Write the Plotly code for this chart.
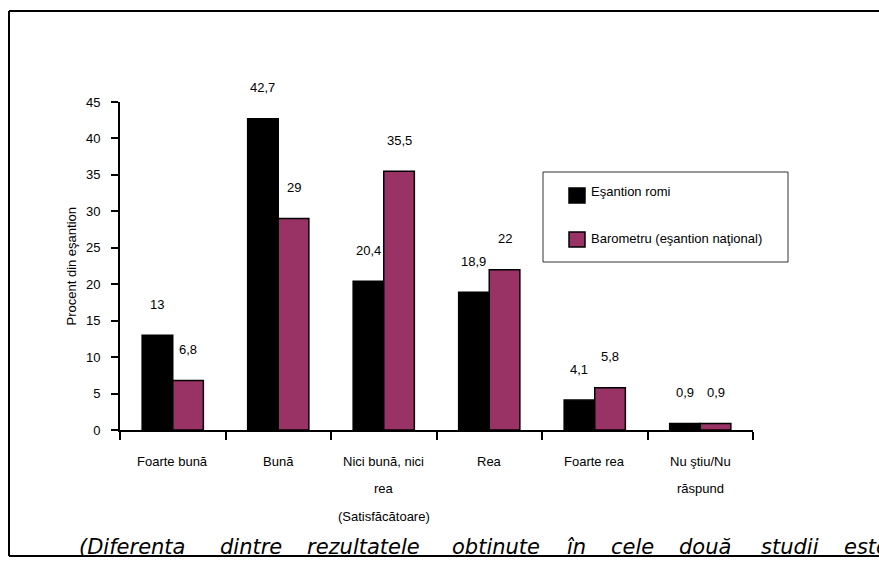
import plotly.graph_objects as go

# Categories (axis labels split into display lines) and the two survey series
categories = ["Foarte bună", "Bună", "Nici bună, nici|rea|(Satisfăcătoare)",
              "Rea", "Foarte rea", "Nu ştiu/Nu|răspund"]
series_names = ["Eşantion romi", "Barometru (eşantion naţional)"]
roma_sample = [13, 42.7, 20.4, 18.9, 4.1, 0.9]
national_barometer = [6.8, 29, 35.5, 22, 5.8, 0.9]
y_ticks = [0, 5, 10, 15, 20, 25, 30, 35, 40, 45]
y_title = "Procent din eşantion"
footnote_words = ["(Diferenta", "dintre", "rezultatele", "obtinute", "în",
                  "cele", "două", "studii", "este"]

colors = ["#000000", "#993366"]
FONT = "Liberation Sans, Arial, sans-serif"
NOTE_FONT = "DejaVu Sans"
FS = 13
W, H = 879, 563
ML, MR, MT, MB = 120, 126, 102, 133
BARGAP = 0.42


def px(x):
    return (x - ML) / (W - ML - MR)


def py(y):
    return (H - MB - y) / (H - MT - MB)


def fmt(v):
    return f"{v:g}".replace(".", ",")


n = len(categories)
centers = [i + 0.5 for i in range(n)]
bar_w = (1 - BARGAP) / 2

fig = go.Figure()
for name, vals, col in zip(series_names, [roma_sample, national_barometer], colors):
    fig.add_trace(go.Bar(
        x=centers, y=vals, name=name,
        marker=dict(color=col, line=dict(color="#000000", width=1.5)),
        showlegend=False,
    ))

annotations = []
# value labels above each bar
for k, vals in enumerate([roma_sample, national_barometer]):
    off = (k - 0.5) * bar_w
    for c, v in zip(centers, vals):
        annotations.append(dict(
            x=c + off, y=v, xref="x", yref="y", text=fmt(v), showarrow=False,
            yanchor="middle", yshift=31, font=dict(family=FONT, size=FS, color="#000"),
        ))

# category labels, one annotation per line
line_y = [461, 488, 516]
for c, lab in zip(centers, categories):
    for j, part in enumerate(lab.split("|")):
        annotations.append(dict(
            x=c, y=py(line_y[j]), xref="x", yref="paper", text=part, showarrow=False,
            yanchor="middle", font=dict(family=FONT, size=FS, color="#000"),
        ))

# y-axis title
annotations.append(dict(
    x=px(61), y=py(266), xref="paper", yref="paper", text=y_title, textangle=-90,
    showarrow=False, font=dict(family=FONT, size=FS, color="#000"),
))

# legend (drawn by hand inside a framed box)
shapes = [
    dict(type="rect", xref="paper", yref="paper", x0=px(543), x1=px(788),
         y0=py(262), y1=py(172), line=dict(color="#333", width=1), fillcolor="white"),
]
legend_rows = [(188, 191), (232, 238)]
for (sq_top, txt_y), name, col in zip(legend_rows, series_names, colors):
    shapes.append(dict(type="rect", xref="paper", yref="paper", x0=px(569), x1=px(585),
                       y0=py(sq_top + 15), y1=py(sq_top),
                       line=dict(color="#000", width=1.5), fillcolor=col))
    annotations.append(dict(
        x=px(589), y=py(txt_y), xref="paper", yref="paper", text=name, showarrow=False,
        xanchor="left", yanchor="middle", font=dict(family=FONT, size=FS, color="#000"),
    ))

# outer frame (left, top, bottom)
frame = dict(color="#000", width=2)
shapes += [
    dict(type="line", xref="paper", yref="paper", x0=px(9), x1=px(9), y0=py(556), y1=py(11), line=frame),
    dict(type="line", xref="paper", yref="paper", x0=px(9), x1=px(880), y0=py(11), y1=py(11), line=frame),
    dict(type="line", xref="paper", yref="paper", x0=px(9), x1=px(880), y0=py(556), y1=py(556), line=frame),
]

# italic footnote running along the bottom frame line
word_x = [77, 218, 305, 450, 565, 609, 677, 759, 842]
for wx, word in zip(word_x, footnote_words):
    annotations.append(dict(
        x=px(wx), y=py(547), xref="paper", yref="paper", text=word, showarrow=False,
        xanchor="left", yanchor="middle",
        font=dict(family=NOTE_FONT, size=21, color="#000", style="italic"),
    ))

fig.update_layout(
    width=W, height=H,
    margin=dict(l=ML, r=MR, t=MT, b=MB),
    paper_bgcolor="white", plot_bgcolor="white",
    barmode="group", bargap=BARGAP, bargroupgap=0,
    font=dict(family=FONT, size=FS, color="#000"),
    xaxis=dict(range=[0, n], tickvals=list(range(n + 1)), showticklabels=False,
               ticks="outside", ticklen=8, tickwidth=2, tickcolor="#000",
               showline=True, linecolor="#000", linewidth=2, showgrid=False, zeroline=False),
    yaxis=dict(range=[0, 45], tickvals=y_ticks, ticks="outside", ticklen=7, tickwidth=2,
               tickcolor="#000", ticklabelstandoff=8,
               showline=True, linecolor="#000", linewidth=2, showgrid=False, zeroline=False,
               tickfont=dict(family=FONT, size=FS, color="#000")),
    shapes=shapes,
    annotations=annotations,
)

fig.write_html("out.html")
